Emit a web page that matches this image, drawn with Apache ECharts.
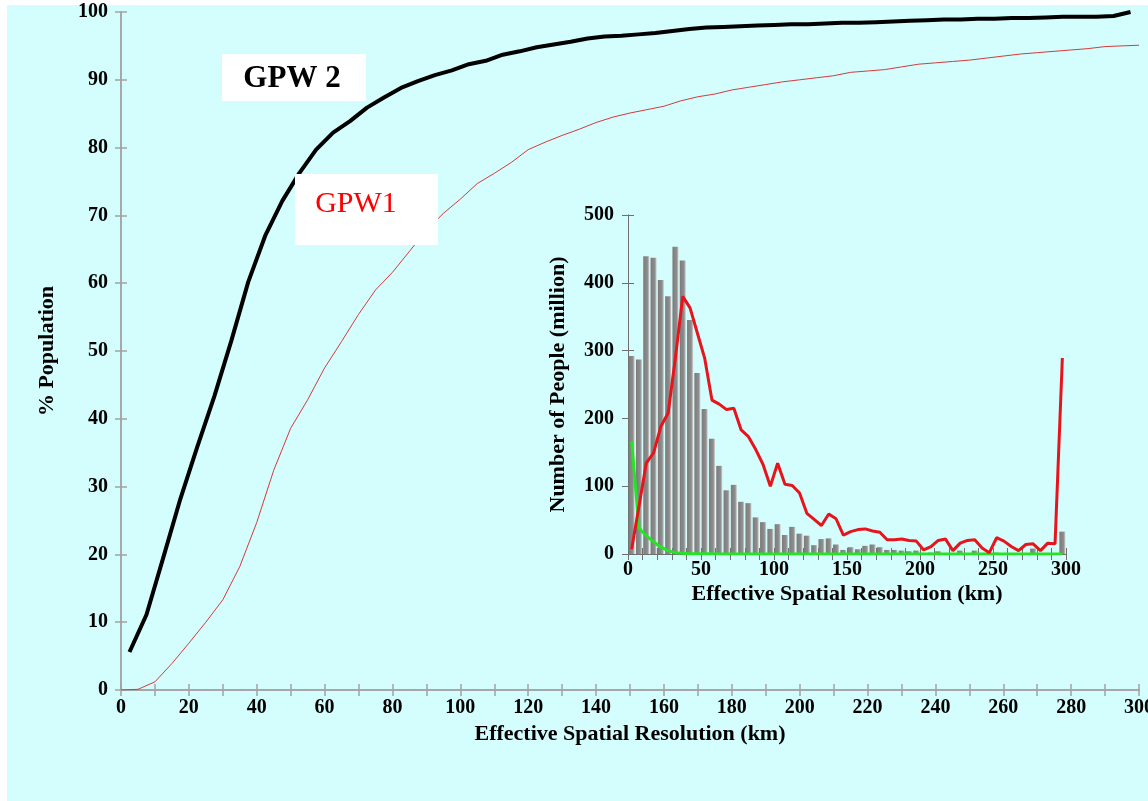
<!DOCTYPE html>
<html>
<head>
<meta charset="utf-8">
<title>GPW effective spatial resolution</title>
<script src="https://cdn.jsdelivr.net/npm/echarts@6.0.0/dist/echarts.min.js"></script>
<style>
  html, body { margin: 0; padding: 0; background: #fff; }
  #main { width: 1148px; height: 801px; }
</style>
</head>
<body>
<div id="main"></div>
<script>
// bin centres (km) of the 5 km histogram bins
var binKm = [2.5, 7.5, 12.5, 17.5, 22.5, 27.5, 32.5, 37.5, 42.5, 47.5,
  52.5, 57.5, 62.5, 67.5, 72.5, 77.5, 82.5, 87.5, 92.5, 97.5,
  102.5, 107.5, 112.5, 117.5, 122.5, 127.5, 132.5, 137.5, 142.5, 147.5,
  152.5, 157.5, 162.5, 167.5, 172.5, 177.5, 182.5, 187.5, 192.5, 197.5,
  202.5, 207.5, 212.5, 217.5, 222.5, 227.5, 232.5, 237.5, 242.5, 247.5,
  252.5, 257.5, 262.5, 267.5, 272.5, 277.5, 282.5, 287.5, 292.5, 297.5];

// main chart: cumulative % population, GPW 2 (at bin centres)
var gpw2Cum = [5.6, 11.1, 19.6, 28.2, 35.9, 43.3, 51.5, 60.2, 67.0, 72.1,
  76.2, 79.7, 82.2, 83.9, 85.9, 87.4, 88.8, 89.8, 90.7, 91.4,
  92.3, 92.8, 93.7, 94.2, 94.8, 95.2, 95.6, 96.1, 96.4, 96.5,
  96.7, 96.9, 97.2, 97.5, 97.7, 97.8, 97.9, 98.0, 98.1, 98.2,
  98.2, 98.3, 98.4, 98.4, 98.5, 98.6, 98.7, 98.8, 98.9, 98.9,
  99.0, 99.0, 99.1, 99.1, 99.2, 99.3, 99.3, 99.3, 99.4, 100];

// main chart: cumulative % population, GPW1
var gpw1Km = [0, 5, 10, 15, 20, 25, 30, 35, 40, 45, 50, 55, 60, 65, 70, 75, 80, 85, 90, 95,
  100, 105, 110, 115, 120, 125, 130, 135, 140, 145, 150, 155, 160, 165, 170, 175, 180, 185, 190, 195,
  200, 205, 210, 215, 220, 225, 230, 235, 240, 245, 250, 255, 260, 265, 270, 275, 280, 285, 290, 295, 300];
var gpw1Cum = [0, 0.1, 1.2, 3.9, 6.9, 10.0, 13.3, 18.2, 24.7, 32.4, 38.6, 42.8, 47.5, 51.4, 55.4, 59.0, 61.6, 64.7, 67.8, 70.3,
  72.4, 74.7, 76.2, 77.8, 79.7, 80.8, 81.8, 82.7, 83.7, 84.5, 85.1, 85.6, 86.1, 86.9, 87.5, 87.9, 88.5, 88.9, 89.3, 89.7,
  90.0, 90.3, 90.6, 91.1, 91.3, 91.5, 91.9, 92.3, 92.5, 92.7, 92.9, 93.2, 93.5, 93.8, 94.0, 94.2, 94.4, 94.6, 94.9, 95.0, 95.1];

// inset: number of people (million) per 5 km bin
var gpw2Hist = [292, 287, 439, 437, 404, 380, 453, 433, 345, 267,
  214, 170, 130, 94, 102, 77, 75, 54, 47, 37,
  44, 28, 40, 30, 27, 13, 22, 23, 14, 6,
  10, 7, 12, 14, 10, 6, 6, 5, 4, 5,
  1, 2, 4, 1, 0.5, 5, 1, 5, 1, 0.5,
  2, 0.5, 0.5, 0.5, 1, 8, 1, 0.5, 1, 33];
var gpw1Hist = [7, 70, 134, 149, 188, 208, 290, 380, 363, 326,
  289, 227, 221, 213, 215, 183, 173, 154, 132, 100,
  134, 103, 101, 90, 60, 51, 42, 59, 52, 28,
  33, 36, 37, 34, 32, 21, 21, 22, 20, 19,
  6, 11, 20, 22, 5, 16, 20, 21, 9, 2,
  24, 19, 11, 5, 14, 15, 5, 16, 15, 289];
var greenHist = [166, 38, 27, 18, 10, 5, 2, 1, 0.5, 0.3,
  0.2, 0.2, 0.1, 0.1, 0.1, 0, 0, 0, 0, 0,
  0, 0, 0, 0, 0, 0, 0, 0, 0, 0,
  0, 0, 0, 0, 0, 0, 0, 0, 0, 0,
  0, 0, 0, 0, 0, 0, 0, 0, 0, 0,
  0, 0, 0, 0, 0, 0, 0, 0, 0, 0];

function pairs(xs, ys) {
  return ys.map(function (y, i) { return [xs[i], y]; });
}

var serif = 'Liberation Serif';
var mainLine = { lineStyle: { color: '#a3a3a3', width: 1.5 } };
var mainTick = { show: true, length: 6, lineStyle: { color: '#a3a3a3', width: 1.5 } };
var insetLine = { lineStyle: { color: '#6f6f6f', width: 1 } };
var insetTick = { show: true, length: 6, lineStyle: { color: '#6f6f6f', width: 1 } };
var tickFont = { color: '#000', fontFamily: serif, fontWeight: 'bold', fontSize: 20 };
var titleFont = { color: '#000', fontFamily: serif, fontWeight: 'bold', fontSize: 22 };

var chart = echarts.init(document.getElementById('main'), null, { renderer: 'canvas' });

var option = {
  backgroundColor: '#ffffff',
  animation: false,
  graphic: [
    { type: 'rect', z: -10, silent: true, shape: { x: 7, y: 5, width: 1141, height: 796 }, style: { fill: '#d4fdfd' } },
    { type: 'rect', z: 10, shape: { x: 222, y: 54, width: 144, height: 47 }, style: { fill: '#ffffff' } },
    { type: 'text', z: 11, x: 292, y: 79, style: { text: 'GPW 2', fill: '#000', font: 'bold 31px "Liberation Serif"', align: 'center', verticalAlign: 'middle' } },
    { type: 'rect', z: 10, shape: { x: 295, y: 174, width: 143, height: 71 }, style: { fill: '#ffffff' } },
    { type: 'text', z: 11, x: 356, y: 204, style: { text: 'GPW1', fill: '#ff0000', font: '30px "Liberation Serif"', align: 'center', verticalAlign: 'middle' } }
  ],
  grid: [
    { left: 121, top: 12, right: 9, bottom: 111, outerBoundsMode: 'none' },
    { left: 628, top: 215, width: 438, height: 339, outerBoundsMode: 'none' }
  ],
  xAxis: [
    {
      type: 'value', gridIndex: 0, position: 'bottom', min: 0, max: 300, interval: 10,
      name: 'Effective Spatial Resolution (km)', nameLocation: 'middle', nameGap: 29,
      nameTextStyle: titleFont,
      axisLine: mainLine, axisTick: mainTick, splitLine: { show: false },
      axisLabel: Object.assign({ margin: 8, formatter: function (v) { return v % 20 === 0 ? v : ''; } }, tickFont)
    },
    {
      type: 'value', gridIndex: 0, position: 'top', min: 0, max: 300, interval: 10,
      axisLine: mainLine, axisTick: mainTick, splitLine: { show: false }, axisLabel: { show: false }
    },
    {
      type: 'value', gridIndex: 1, position: 'bottom', min: 0, max: 300, interval: 10,
      name: 'Effective Spatial Resolution (km)', nameLocation: 'middle', nameGap: 29,
      nameTextStyle: titleFont,
      axisLine: insetLine, axisTick: insetTick, splitLine: { show: false },
      axisLabel: Object.assign({ margin: 6, formatter: function (v) { return v % 50 === 0 ? v : ''; } }, tickFont)
    },
    {
      type: 'value', gridIndex: 1, position: 'top', min: 0, max: 300, interval: 10,
      axisLine: insetLine, axisTick: insetTick, splitLine: { show: false }, axisLabel: { show: false }
    }
  ],
  yAxis: [
    {
      type: 'value', gridIndex: 0, position: 'left', min: 0, max: 100, interval: 10,
      name: '% Population', nameLocation: 'middle', nameGap: 63,
      nameTextStyle: titleFont,
      axisLine: Object.assign({ show: true }, mainLine), axisTick: mainTick, splitLine: { show: false },
      axisLabel: Object.assign({ margin: 13 }, tickFont)
    },
    {
      type: 'value', gridIndex: 0, position: 'right', min: 0, max: 100, interval: 10,
      axisLine: Object.assign({ show: true }, mainLine), axisTick: mainTick, splitLine: { show: false }, axisLabel: { show: false }
    },
    {
      type: 'value', gridIndex: 1, position: 'left', min: 0, max: 500, interval: 100,
      name: 'Number of People (million)', nameLocation: 'middle', nameGap: 59,
      nameTextStyle: titleFont,
      axisLine: Object.assign({ show: true }, insetLine), axisTick: insetTick, splitLine: { show: false },
      axisLabel: Object.assign({ margin: 14 }, tickFont)
    },
    {
      type: 'value', gridIndex: 1, position: 'right', min: 0, max: 500, interval: 100,
      axisLine: Object.assign({ show: true }, insetLine), axisTick: insetTick, splitLine: { show: false }, axisLabel: { show: false }
    }
  ],
  series: [
    {
      name: 'GPW1', type: 'line', xAxisIndex: 0, yAxisIndex: 0,
      data: pairs(gpw1Km, gpw1Cum), showSymbol: false,
      lineStyle: { color: '#d43b3b', width: 1 }, z: 3
    },
    {
      name: 'GPW 2', type: 'line', xAxisIndex: 0, yAxisIndex: 0,
      data: pairs(binKm, gpw2Cum), showSymbol: false,
      lineStyle: { color: '#000', width: 4 }, z: 4
    },
    {
      name: 'GPW 2 histogram', type: 'bar', xAxisIndex: 2, yAxisIndex: 2,
      data: pairs(binKm, gpw2Hist), barWidth: 6,
      itemStyle: {
        color: new echarts.graphic.LinearGradient(0, 0, 1, 0, [
          { offset: 0, color: '#7b7b7b' },
          { offset: 0.7, color: '#8e8e8e' },
          { offset: 1, color: '#cfcfcf' }
        ])
      }
    },
    {
      name: 'GPW1 histogram', type: 'line', xAxisIndex: 2, yAxisIndex: 2,
      data: pairs(binKm, gpw1Hist), showSymbol: false,
      lineStyle: { color: '#e8141c', width: 3 }, z: 5
    },
    {
      name: 'other', type: 'line', xAxisIndex: 2, yAxisIndex: 2,
      data: pairs(binKm, greenHist), showSymbol: false,
      lineStyle: { color: '#22e622', width: 3 }, z: 4
    }
  ]
};

chart.setOption(option);
</script>
</body>
</html>
